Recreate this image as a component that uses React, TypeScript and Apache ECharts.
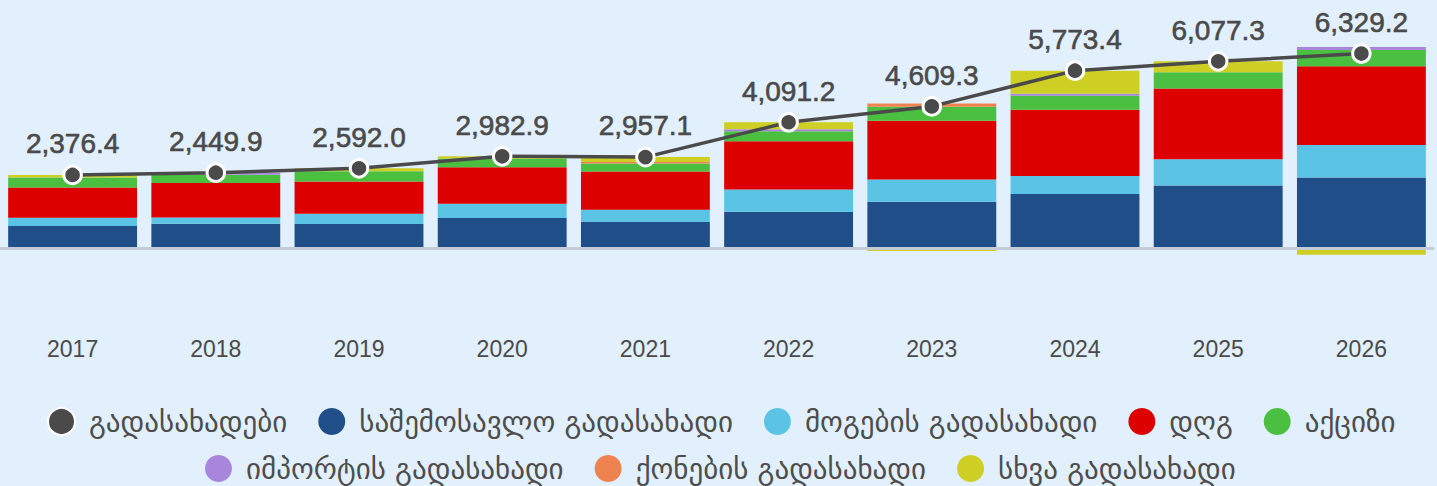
import React, { useEffect, useRef } from "react";
import * as echarts from "echarts";

const years = ["2017", "2018", "2019", "2020", "2021", "2022", "2023", "2024", "2025", "2026"];
const totals = [2376.4, 2449.9, 2592.0, 2982.9, 2957.1, 4091.2, 4609.3, 5773.4, 6077.3, 6329.2];
const incomeTax = [715, 787, 780, 978, 846, 1175, 1505, 1754, 2032, 2295];
const profitTax = [264, 200, 330, 461, 395, 725, 725, 588, 856, 1054];
const vat = [988, 1130, 1054, 1186, 1247, 1570, 1910, 2157, 2306, 2569];
const excise = [330, 266, 330, 285, 264, 330, 461, 457, 527, 527];
const importTax = [0, 67, 0, 0, 0, 66, 0, 65, 0, 99];
const propertyTax = [0, 0, 0, 0, 45, 0, 99, 0, 0, 0];
const otherTax = [80, 0, 98, 73, 160, 225, -100, 752, 356, -220];

const names = [
  "გადასახადები",
  "საშემოსავლო გადასახადი",
  "მოგების გადასახადი",
  "დღგ",
  "აქციზი",
  "იმპორტის გადასახადი",
  "ქონების გადასახადი",
  "სხვა გადასახადი",
];
const colors = ["#4a4a4a", "#1f4e89", "#5bc4e4", "#dc0000", "#4bbf3f", "#a886db", "#ee8350", "#cdcf25"];

export default function App() {
  const ref = useRef<HTMLDivElement>(null);
  useEffect(() => {
    const chart = echarts.init(ref.current!, null, { renderer: "svg" });
    const barData = [incomeTax, profitTax, vat, excise, importTax, propertyTax, otherTax];
    const bars = barData.map((d, i) => ({
      name: names[i + 1],
      type: "bar",
      stack: "taxes",
      barCategoryGap: "10%",
      data: d,
      itemStyle: { color: colors[i + 1] },
      emphasis: { disabled: true },
    }));
    const legendBase = {
      padding: 0,
      itemWidth: 27,
      itemHeight: 27,
      itemGap: 20,
      icon: "circle",
      textStyle: {
        fontSize: 29,
        lineHeight: 27,
        color: "#4d4d4d",
        padding: [0, 11, 0, 9],
        fontFamily: "DejaVu Sans, sans-serif",
      },
    };
    chart.setOption({
      animation: false,
      backgroundColor: "#e2effc",
      textStyle: { fontFamily: "Liberation Sans, Arial, DejaVu Sans, sans-serif" },
      grid: { left: 1, right: 4, top: 33, bottom: 146 },
      legend: [
        { ...legendBase, left: 47, top: 407, data: names.slice(0, 5) },
        { ...legendBase, left: 205, top: 454, data: names.slice(5) },
      ],
      xAxis: {
        type: "category",
        data: years,
        z: 3,
        axisLine: { show: true, onZero: true, lineStyle: { color: "#c3cbd5", width: 3 } },
        axisTick: { show: false },
        axisLabel: { fontSize: 23, color: "#4a4a4a", margin: -3, interval: 0 },
      },
      yAxis: {
        type: "value",
        min: -3000,
        max: 7000,
        show: false,
        splitLine: { show: false },
      },
      series: [
        ...bars,
        {
          name: names[0],
          type: "line",
          data: totals,
          z: 5,
          symbol: "circle",
          symbolSize: 17.5,
          lineStyle: { color: colors[0], width: 3.5 },
          itemStyle: { color: colors[0], borderColor: "#ffffff", borderWidth: 3 },
          label: {
            show: true,
            position: "top",
            distance: 7,
            fontSize: 28,
            color: "#4a4a4a",
            textBorderColor: "#4a4a4a",
            textBorderWidth: 0.6,
            formatter: (p: any) =>
              p.value.toLocaleString("en-US", { minimumFractionDigits: 1, maximumFractionDigits: 1 }),
          },
          emphasis: { disabled: true },
        },
      ],
    });
    return () => chart.dispose();
  }, []);
  return (
    <div
      ref={ref}
      style={{ position: "fixed", left: 0, top: 0, width: 1437, height: 486 }}
    />
  );
}
